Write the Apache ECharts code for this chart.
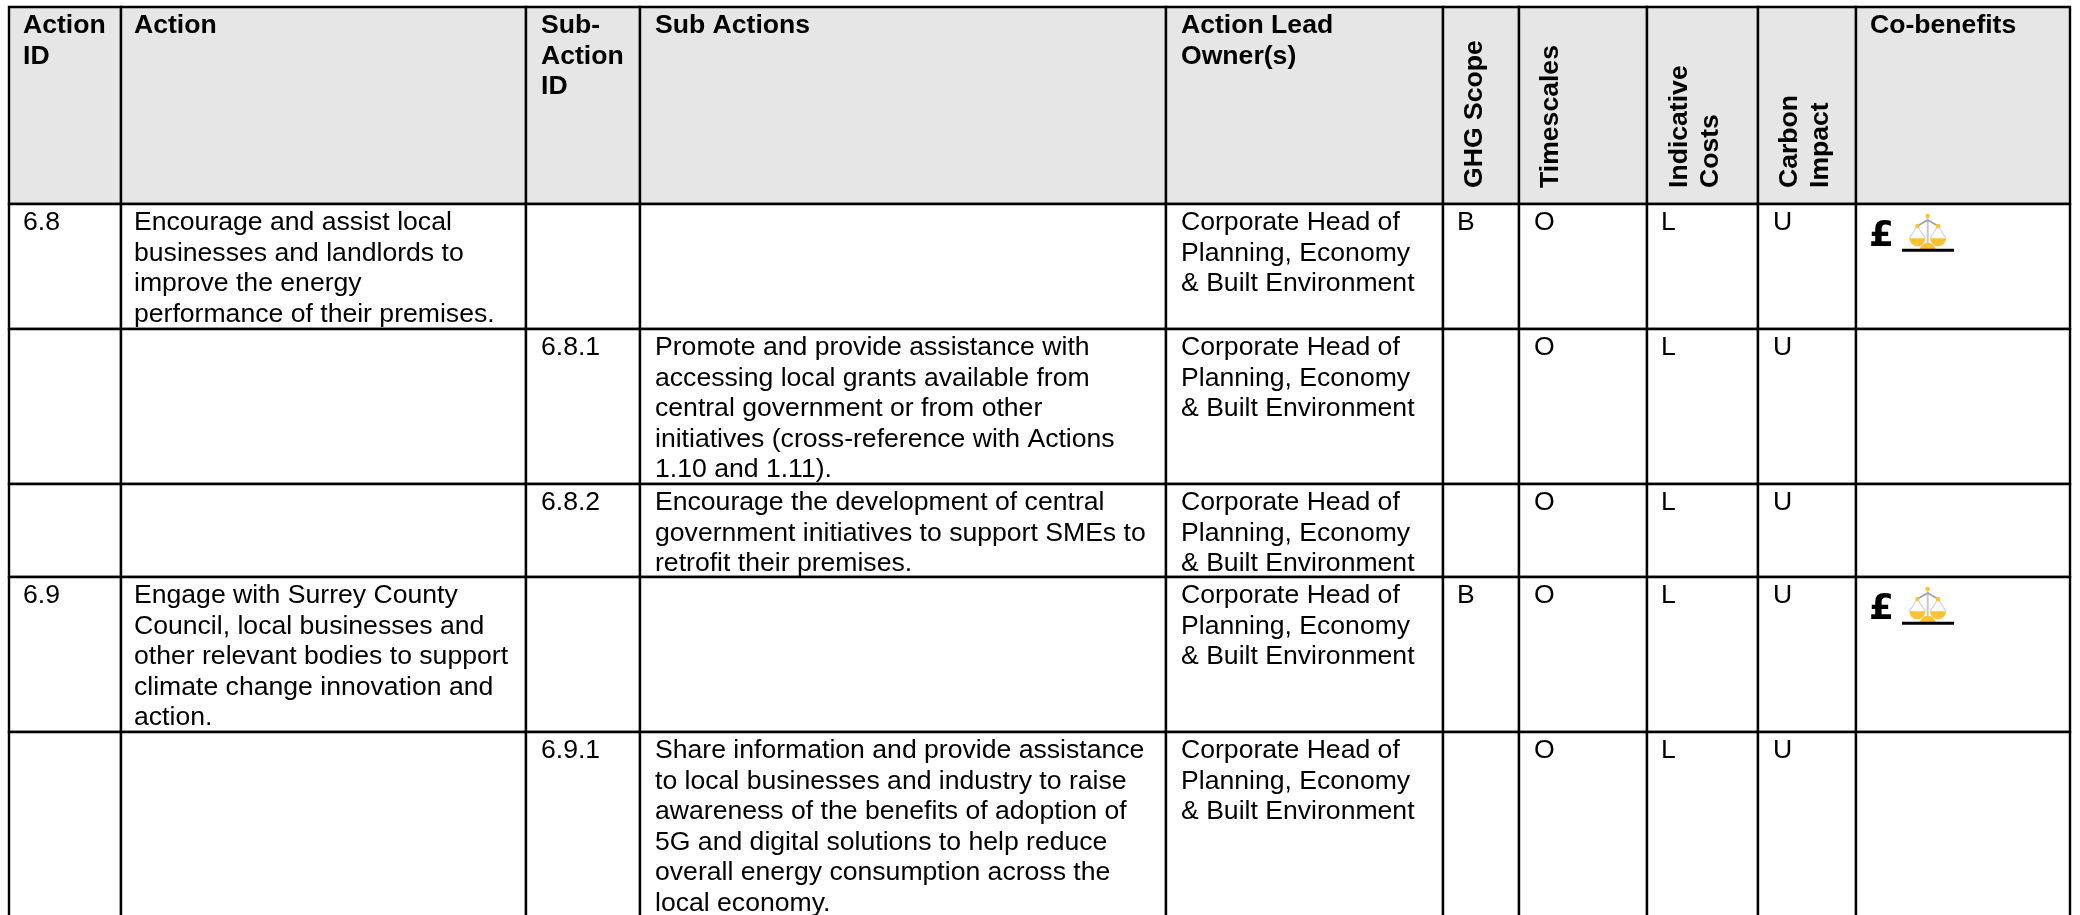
<!DOCTYPE html>
<html>
<head>
<meta charset="utf-8">
<title>Action plan table</title>
<script src="https://cdn.jsdelivr.net/npm/echarts@6/dist/echarts.min.js"></script>
<style>
    html, body { margin: 0; padding: 0; background: #fff; }
    #main { width: 2080px; height: 915px; }
</style>
</head>
<body>
<div id="main"></div>
<script>
// table content, one list per column
const columnHeaders = ['Action\nID', 'Action', 'Sub-\nAction\nID', 'Sub Actions', 'Action Lead\nOwner(s)', 'GHG Scope', 'Timescales', 'Indicative\nCosts', 'Carbon\nImpact', 'Co-benefits'];
const actionIds = ['6.8', '', '', '6.9', ''];
const actions = [
    'Encourage and assist local\nbusinesses and landlords to\nimprove the energy\nperformance of their premises.',
    '',
    '',
    'Engage with Surrey County\nCouncil, local businesses and\nother relevant bodies to support\nclimate change innovation and\naction.',
    ''
];
const subActionIds = ['', '6.8.1', '6.8.2', '', '6.9.1'];
const subActions = [
    '',
    'Promote and provide assistance with\naccessing local grants available from\ncentral government or from other\ninitiatives (cross-reference with Actions\n1.10 and 1.11).',
    'Encourage the development of central\ngovernment initiatives to support SMEs to\nretrofit their premises.',
    '',
    'Share information and provide assistance\nto local businesses and industry to raise\nawareness of the benefits of adoption of\n5G and digital solutions to help reduce\noverall energy consumption across the\nlocal economy.'
];
const leadOwner = 'Corporate Head of\nPlanning, Economy\n& Built Environment';
const leadOwners = [leadOwner, leadOwner, leadOwner, leadOwner, leadOwner];
const ghgScopes = ['B', '', '', 'B', ''];
const timescales = ['O', 'O', 'O', 'O', 'O'];
const indicativeCosts = ['L', 'L', 'L', 'L', 'L'];
const carbonImpacts = ['U', 'U', 'U', 'U', 'U'];
const coBenefits = ['£', '', '', '£', ''];

const bodyColumns = [actionIds, actions, subActionIds, subActions, leadOwners, ghgScopes, timescales, indicativeCosts, carbonImpacts, coBenefits];

// layout of the sheet, in page pixels
const columnEdges = [9, 121, 526, 640, 1166, 1443, 1519, 1647, 1758, 1856, 2070];
const rowEdges = [7, 204, 329, 484, 577, 732, 940];
const textInset = [14, 13, 15, 15, 15, 14, 15, 14, 15, 14];
const rotatedShift = { 5: 18, 6: 17, 7: 19, 8: 17 };
const FONT = '"Liberation Sans", Arial, sans-serif';
const FONT_SIZE = 26.6;
const LINE_HEIGHT = 30.5;

const cells = [];
columnHeaders.forEach(function (text, col) {
    cells.push({ col: col, row: 0, text: text, header: true });
});
bodyColumns.forEach(function (list, col) {
    list.forEach(function (text, i) {
        cells.push({ col: col, row: i + 1, text: text, header: false });
    });
});

function textLine(str, x, y, bold, rotation) {
    return {
        type: 'text',
        x: x,
        y: y,
        rotation: rotation || 0,
        silent: true,
        style: {
            text: str,
            x: 0,
            y: 0,
            fill: '#000',
            font: (bold ? 'bold ' : '') + FONT_SIZE + 'px ' + FONT,
            align: 'left',
            verticalAlign: 'middle'
        }
    };
}

// little balance icon next to the pound sign, drawn around its own centre
function scalesIcon(cx, top) {
    const p = function (x, y) { return [cx + (x - 263) / 3, top + y / 3 - 14]; };
    const seg = function (a, b, color, w) {
        const s = p(a[0], a[1]), e = p(b[0], b[1]);
        return { type: 'line', silent: true, shape: { x1: s[0], y1: s[1], x2: e[0], y2: e[1] }, style: { stroke: color, lineWidth: w } };
    };
    const dot = function (x, y) {
        const c = p(x, y);
        return { type: 'circle', silent: true, shape: { cx: c[0], cy: c[1], r: 2.2 }, style: { fill: '#fdc136' } };
    };
    const pan = function (x) {
        const c = p(x, 145);
        return { type: 'sector', silent: true, shape: { cx: c[0], cy: c[1], r0: 0, r: 8, startAngle: 0, endAngle: Math.PI, clockwise: true }, style: { fill: '#fdc136' } };
    };
    const base = p(263, 182);
    const lineA = p(186, 181), lineB = p(342, 181);
    return [
        seg([208, 145], [232, 108], '#d4d4d4', 1.2),
        seg([256, 145], [232, 108], '#d4d4d4', 1.2),
        seg([270, 145], [294, 108], '#d4d4d4', 1.2),
        seg([318, 145], [294, 108], '#d4d4d4', 1.2),
        seg([263, 85], [263, 172], '#c8c8c8', 2),
        seg([232, 108], [263, 90], '#a0a0a0', 1.6),
        seg([263, 90], [294, 108], '#a0a0a0', 1.6),
        pan(232),
        pan(294),
        { type: 'sector', silent: true, shape: { cx: base[0], cy: base[1], r0: 0, r: 8, startAngle: Math.PI, endAngle: Math.PI * 2, clockwise: true }, style: { fill: '#fdc136' } },
        dot(263, 78),
        dot(232, 108),
        dot(294, 108),
        { type: 'rect', silent: true, shape: { x: lineA[0], y: lineA[1] - 1.5, width: lineB[0] - lineA[0], height: 3 }, style: { fill: '#000' } }
    ];
}

function renderCell(params, api) {
    const cell = cells[api.value(2)];
    const tl = api.coord([columnEdges[cell.col], rowEdges[cell.row]]);
    const br = api.coord([columnEdges[cell.col + 1], rowEdges[cell.row + 1]]);
    const children = [{
        type: 'rect',
        silent: true,
        shape: { x: tl[0], y: tl[1], width: br[0] - tl[0], height: br[1] - tl[1] },
        style: { fill: cell.header ? '#e6e6e6' : '#fff', stroke: '#000', lineWidth: 2.4 }
    }];
    if (cell.text) {
        const lines = cell.text.split('\n');
        const x = tl[0] + textInset[cell.col];
        const isRotated = cell.header && rotatedShift[cell.col] !== undefined;
        const isIconCell = cell.col === 9 && !cell.header;
        lines.forEach(function (str, i) {
            if (isRotated) {
                // reads bottom to top, starting just above the header's lower edge
                children.push(textLine(str, tl[0] + textInset[cell.col] + rotatedShift[cell.col] + i * LINE_HEIGHT, br[1] - 16, true, Math.PI / 2));
            } else if (isIconCell) {
                children.push({
                    type: 'text', silent: true, x: tl[0] + 13, y: tl[1] + 33,
                    style: { text: str, x: 0, y: 0, fill: '#000', font: 'bold 36px "DejaVu Sans", sans-serif', align: 'left', verticalAlign: 'middle' }
                });
            } else {
                children.push(textLine(str, x, tl[1] + 18.8 + i * LINE_HEIGHT, cell.header, 0));
            }
        });
        if (isIconCell) {
            scalesIcon(tl[0] + 71.7, tl[1]).forEach(function (el) { children.push(el); });
        }
    }
    return { type: 'group', children: children };
}

const chart = echarts.init(document.getElementById('main'), null, { renderer: 'canvas' });
chart.setOption({
    animation: false,
    backgroundColor: '#fff',
    grid: { left: 0, right: 0, top: 0, bottom: 0 },
    xAxis: { type: 'value', min: 0, max: 2080, show: false },
    yAxis: { type: 'value', min: 0, max: 915, inverse: true, show: false },
    series: [{
        type: 'custom',
        coordinateSystem: 'cartesian2d',
        renderItem: renderCell,
        clip: true,
        silent: true,
        encode: { x: 0, y: 1 },
        data: cells.map(function (c, i) {
            return [columnEdges[c.col], rowEdges[c.row], i];
        })
    }]
});
</script>
</body>
</html>
